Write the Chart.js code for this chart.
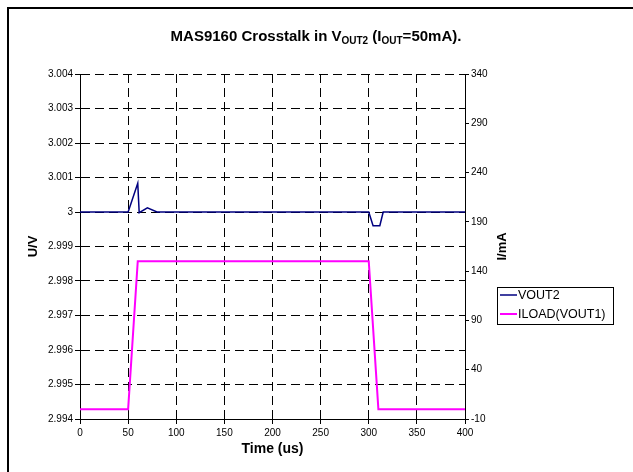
<!DOCTYPE html>
<html>
<head>
<meta charset="utf-8">
<script src="https://cdn.jsdelivr.net/npm/chart.js@4/dist/chart.umd.min.js"></script>
<style>
html,body{margin:0;padding:0;background:#fff;}
#wrap{width:633px;height:472px;position:relative;}
</style>
</head>
<body>
<div id="wrap"><canvas id="c" width="633" height="472"></canvas></div>
<script>
// ---- data ----
const timeTicks = [0, 50, 100, 150, 200, 250, 300, 350, 400];
const voltTicks = [2.994, 2.995, 2.996, 2.997, 2.998, 2.999, 3.000, 3.001, 3.002, 3.003, 3.004];
const voltTickLabels = ['2.994', '2.995', '2.996', '2.997', '2.998', '2.999', '3', '3.001', '3.002', '3.003', '3.004'];
const currentTicks = [-10, 40, 90, 140, 190, 240, 290, 340];

const vout2Time  = [0, 50, 60, 61.5, 70, 80, 300, 304.5, 311.5, 315, 400];
const vout2Volts = [3.0, 3.0, 3.00083, 2.99998, 3.00012, 3.0, 3.0, 2.9996, 2.9996, 3.0, 3.0];

const iloadTime = [0, 50, 60, 300, 310, 400];
const iloadmA   = [0, 0, 150, 150, 0, 0];

const seriesLabels = ['VOUT2', 'ILOAD(VOUT1)'];
const titleParts = [
  {text: 'MAS9160 Crosstalk in V', sub: false},
  {text: 'OUT2', sub: true},
  {text: ' (I', sub: false},
  {text: 'OUT', sub: true},
  {text: '=50mA).', sub: false}
];
const xTitle = 'Time (us)';
const yLeftTitle = 'U/V';
const yRightTitle = 'I/mA';

// ---- chart ----
const FONT = "'Liberation Sans', Arial, Helvetica, sans-serif";
Chart.defaults.font.family = FONT;
Chart.defaults.color = '#000';

const decor = {
  id: 'decor',
  beforeDraw(chart) {
    const ctx = chart.ctx;
    ctx.save();
    ctx.fillStyle = '#fff';
    ctx.fillRect(0, 0, chart.width, chart.height);
    ctx.restore();
  },
  afterDraw(chart) {
    const ctx = chart.ctx;
    const area = chart.chartArea;
    ctx.save();
    // outer frame
    ctx.strokeStyle = '#000';
    ctx.lineWidth = 2;
    ctx.strokeRect(8, 8, 700, 600);

    // title with subscripts
    const mainFont = 'bold 15px ' + FONT;
    const subFont = 'bold 10px ' + FONT;
    let w = 0;
    titleParts.forEach(p => { ctx.font = p.sub ? subFont : mainFont; w += ctx.measureText(p.text).width; });
    let x = 316 - w / 2;
    const base = 40.5;
    ctx.fillStyle = '#000';
    ctx.textBaseline = 'alphabetic';
    ctx.textAlign = 'left';
    titleParts.forEach(p => {
      ctx.font = p.sub ? subFont : mainFont;
      ctx.fillText(p.text, x, p.sub ? base + 3.5 : base);
      x += ctx.measureText(p.text).width;
    });

    // right axis title
    ctx.save();
    ctx.translate(502, (area.top + area.bottom) / 2);
    ctx.rotate(-Math.PI / 2);
    ctx.font = 'bold 13px ' + FONT;
    ctx.textAlign = 'center';
    ctx.textBaseline = 'middle';
    ctx.fillText(yRightTitle, 0, 0);
    ctx.restore();

    // legend
    const bx = 497.5, by = 287.5, bw = 116, bh = 37;
    ctx.strokeStyle = '#000';
    ctx.lineWidth = 1;
    ctx.strokeRect(bx, by, bw, bh);
    ctx.font = '12.5px ' + FONT;
    ctx.textAlign = 'left';
    ctx.textBaseline = 'middle';
    const rows = [296, 315];
    chart.data.datasets.forEach((ds, i) => {
      const y = rows[i];
      ctx.strokeStyle = ds.borderColor;
      ctx.lineWidth = ds.borderWidth;
      ctx.beginPath();
      ctx.moveTo(500, y - 1);
      ctx.lineTo(517, y - 1);
      ctx.stroke();
      ctx.fillStyle = '#000';
      ctx.fillText(ds.label, 518, y);
    });
    ctx.restore();
  }
};

const tickFont = {size: 10};

new Chart(document.getElementById('c'), {
  type: 'line',
  data: {
    datasets: [
      {
        label: seriesLabels[0],
        data: vout2Time.map((t, i) => ({x: t, y: vout2Volts[i]})),
        yAxisID: 'yV',
        borderColor: '#000080',
        borderWidth: 1.5,
        pointRadius: 0,
        tension: 0,
        fill: false
      },
      {
        label: seriesLabels[1],
        data: iloadTime.map((t, i) => ({x: t, y: iloadmA[i]})),
        yAxisID: 'yI',
        borderColor: '#ff00ff',
        borderWidth: 2,
        pointRadius: 0,
        tension: 0,
        fill: false
      }
    ]
  },
  options: {
    responsive: false,
    animation: false,
    devicePixelRatio: 1,
    layout: {padding: {top: 74, left: 0, right: 0, bottom: 0}},
    plugins: {legend: {display: false}, tooltip: {enabled: false}, title: {display: false}},
    scales: {
      x: {
        type: 'linear',
        position: 'bottom',
        min: 0, max: 400,
        afterBuildTicks: s => { s.ticks = timeTicks.map(v => ({value: v})); },
        afterFit: s => { s.height = 53; },
        ticks: {font: tickFont, color: '#000', padding: 3, maxRotation: 0, callback: (v) => String(v)},
        grid: {color: '#000', lineWidth: 1, tickLength: 5, tickBorderDash: [], tickColor: '#000'},
        border: {display: true, color: '#000', width: 1, dash: [9, 5]},
        title: {display: true, text: xTitle, font: {size: 14, weight: 'bold'}, color: '#000', padding: {top: 0, bottom: 14}}
      },
      yV: {
        type: 'linear',
        position: 'left',
        min: 2.994, max: 3.004,
        afterBuildTicks: s => { s.ticks = voltTicks.map(v => ({value: v})); },
        afterFit: s => { s.width = 80; },
        ticks: {font: tickFont, color: '#000', padding: 2, callback: (v, i) => voltTickLabels[i]},
        grid: {color: '#000', lineWidth: 1, tickLength: 5, tickBorderDash: [], tickColor: '#000'},
        border: {display: true, color: '#000', width: 1, dash: [9, 5]},
        title: {display: true, text: yLeftTitle, font: {size: 13, weight: 'bold'}, color: '#000', padding: {top: 26, bottom: 0}}
      },
      yI: {
        type: 'linear',
        position: 'right',
        min: -10, max: 340,
        afterBuildTicks: s => { s.ticks = currentTicks.map(v => ({value: v})); },
        afterFit: s => { s.width = 168; },
        ticks: {font: tickFont, color: '#000', padding: 2, callback: (v) => String(v)},
        grid: {drawOnChartArea: false, color: '#000', lineWidth: 1, tickLength: 4, tickBorderDash: [], tickColor: '#000'},
        border: {display: true, color: '#000', width: 1}
      }
    }
  },
  plugins: [decor]
});
</script>
</body>
</html>
